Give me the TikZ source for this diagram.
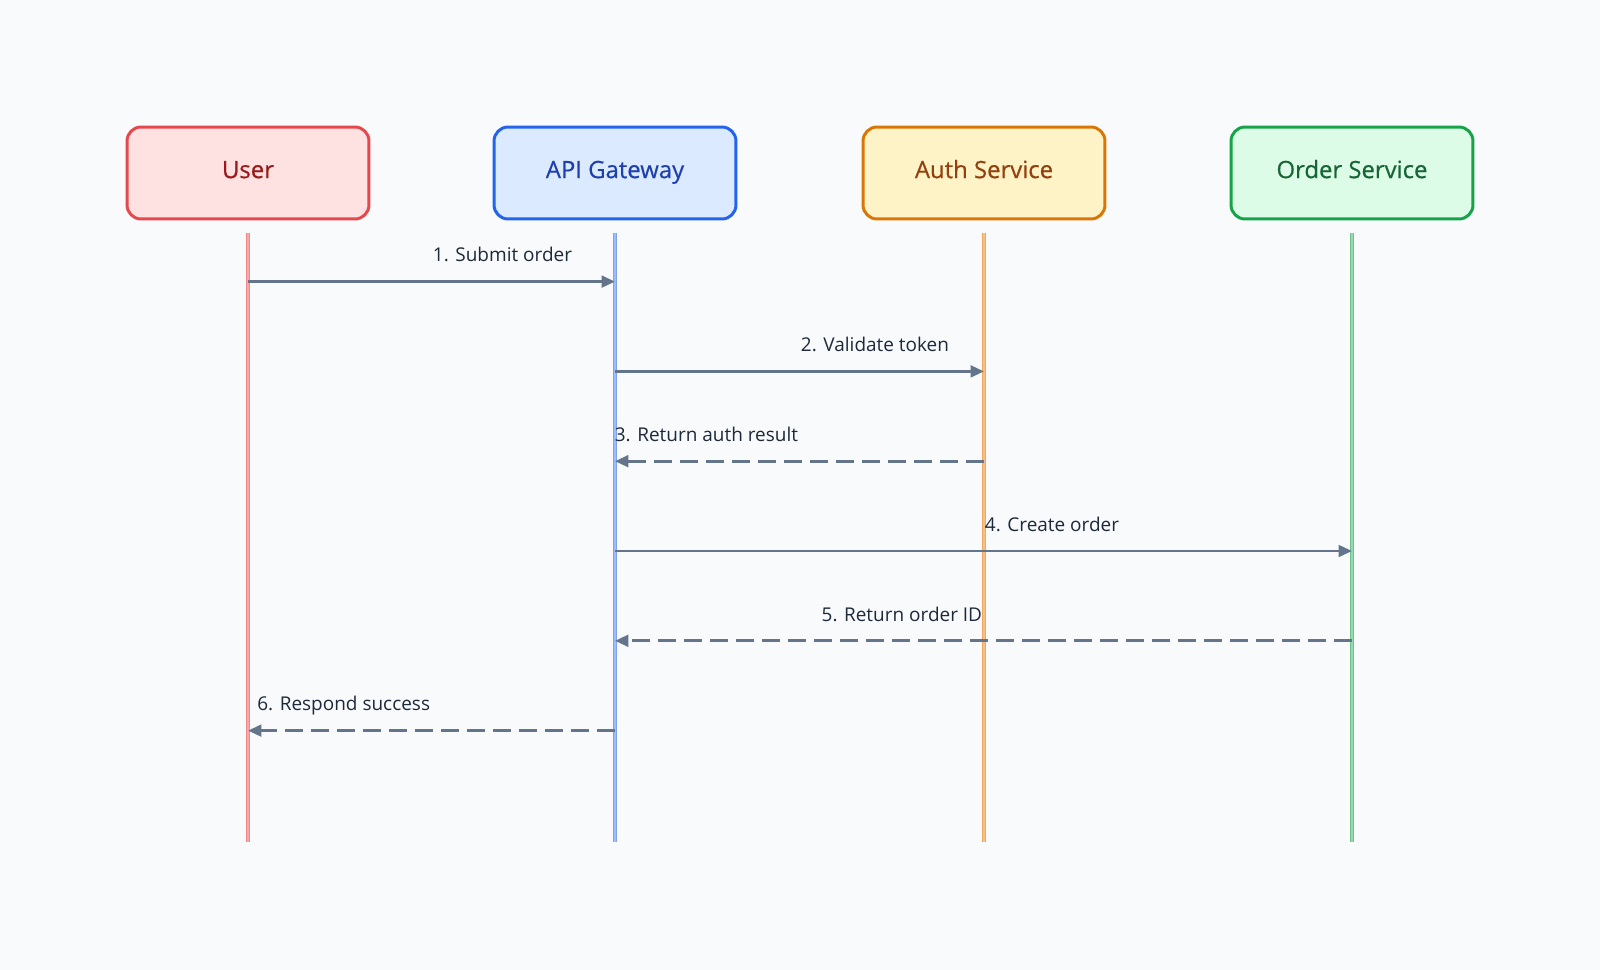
\documentclass[tikz,border=0pt]{standalone}
\usepackage{fontspec}
\setmainfont{Open Sans}
\newfontfamily\actorfont[FakeBold=0.5]{Open Sans}
\usepackage{tikz}
\usetikzlibrary{arrows.meta,positioning}
\definecolor{canvas}{HTML}{F8FAFC}
\definecolor{slate}{HTML}{64748B}
\definecolor{msgink}{HTML}{1E293B}
\definecolor{userdraw}{HTML}{E5484D}
\definecolor{userfill}{HTML}{FEE2E2}
\definecolor{userink}{HTML}{991B1B}
\definecolor{userlane}{HTML}{F08A8A}
\definecolor{userlanein}{HTML}{F7A8A8}
\definecolor{gatedraw}{HTML}{2563EB}
\definecolor{gatefill}{HTML}{DBEAFE}
\definecolor{gateink}{HTML}{1E40AF}
\definecolor{gatelane}{HTML}{7DA2F0}
\definecolor{gatelanein}{HTML}{9FBDF8}
\definecolor{authdraw}{HTML}{D97706}
\definecolor{authfill}{HTML}{FEF3C7}
\definecolor{authink}{HTML}{92400E}
\definecolor{authlane}{HTML}{EFA85A}
\definecolor{authlanein}{HTML}{F5C08A}
\definecolor{orderdraw}{HTML}{16A34A}
\definecolor{orderfill}{HTML}{DCFCE7}
\definecolor{orderink}{HTML}{166534}
\definecolor{orderlane}{HTML}{6CC48C}
\definecolor{orderlanein}{HTML}{98D8AE}
\tikzset{
  actor/.style={line width=1.7pt,rounded corners=8pt,
                minimum width=4.84cm,minimum height=1.84cm,
                text height=9.8pt,text depth=4pt,
                align=center,font=\actorfont\fontsize{13.6}{16}\selectfont,
                inner sep=4pt},
  useractor/.style={actor,draw=userdraw,fill=userfill,text=userink},
  gateactor/.style={actor,draw=gatedraw,fill=gatefill,text=gateink},
  authactor/.style={actor,draw=authdraw,fill=authfill,text=authink},
  orderactor/.style={actor,draw=orderdraw,fill=orderfill,text=orderink},
  lane/.style={line width=0.6pt,double distance=1.1pt},
  callarr/.style={-{Triangle[length=7.6pt,width=6.6pt]},line width=1.65pt,
                  draw=slate},
  replyarr/.style={callarr,dash pattern=on 10pt off 4.8pt},
  msglbl/.style={font=\fontsize{10.8}{13}\selectfont,text=msgink,
                 inner sep=0pt,yshift=11.2pt}
}
\begin{document}
\begin{tikzpicture}[x=0.02cm,y=-0.02cm]
    \fill[canvas] (0,0) rectangle (1600,970);
    \path[use as bounding box] (0,0) rectangle (1600,970);

    \node[useractor] (user) at (248,173) {User};
    \node[gateactor] (gate) at (615,173) {API Gateway};
    \node[authactor] (auth) at (984,173) {Auth Service};
    \node[orderactor] (order) at (1352,173) {Order Service};

    \coordinate (top) at (0,233);
    \coordinate (bot) at (0,842);
    \draw[lane,draw=userlane,double=userlanein] (user |- top) -- (user |- bot);
    \draw[lane,draw=gatelane,double=gatelanein] (gate |- top) -- (gate |- bot);
    \draw[lane,draw=authlane,double=authlanein] (auth |- top) -- (auth |- bot);
    \draw[lane,draw=orderlane,double=orderlanein] (order |- top) -- (order |- bot);

    \coordinate (m1) at (0,281.6);
    \coordinate (m2) at (0,371.4);
    \coordinate (m3) at (0,461.2);
    \coordinate (m4) at (0,551);
    \coordinate (m5) at (0,640.8);
    \coordinate (m6) at (0,730.6);

    \draw[callarr] (user |- m1) -- node[msglbl,anchor=base west]
      {1. Submit order} (gate |- m1);
    \draw[callarr] (gate |- m2) -- node[msglbl,anchor=base west]
      {2. Validate token} (auth |- m2);
    \draw[replyarr] (auth |- m3) -- node[msglbl,anchor=base east]
      {3. Return auth result} (gate |- m3);
    \draw[callarr] (gate |- m4) -- node[msglbl,anchor=base west]
      {4. Create order} (order |- m4);
    \draw[replyarr] (order |- m5) -- node[msglbl,anchor=base east]
      {5. Return order ID} (gate |- m5);
    \draw[replyarr] (gate |- m6) -- node[msglbl,anchor=base east]
      {6. Respond success} (user |- m6);
  \end{tikzpicture}
\end{document}
